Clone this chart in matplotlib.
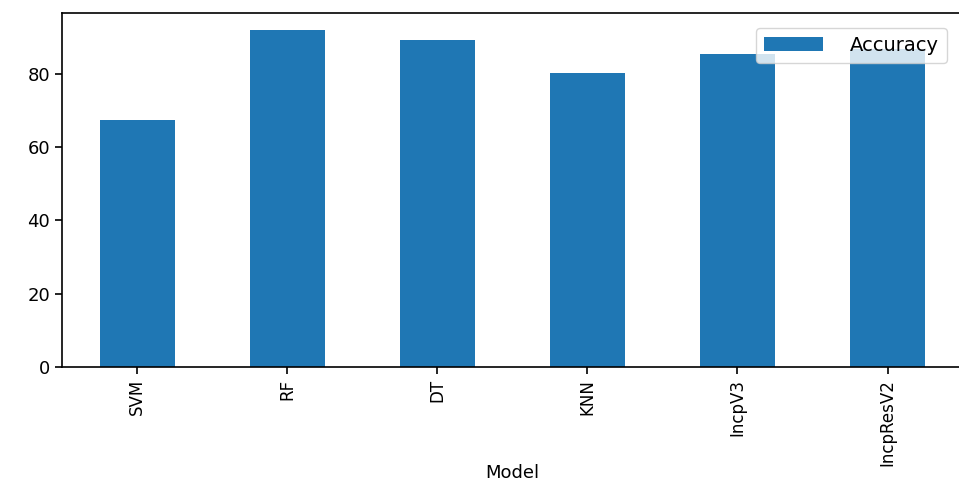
import pandas as pd
import matplotlib
matplotlib.use('Agg')
import matplotlib.pyplot as plt

# Model accuracy values
models = ['SVM', 'RF', 'DT', 'KNN', 'IncpV3', 'IncpResV2']
accuracy = [67.3, 92.0, 89.3, 80.2, 85.5, 86.8]

df = pd.DataFrame({'Model': models, 'Accuracy': accuracy})

fig = plt.figure(figsize=(9.59, 4.84), dpi=100)
ax = fig.add_axes([0.0647, 0.2417, 0.939, 0.7313])

df.plot(kind='bar', x='Model', y='Accuracy', ax=ax, color='#1f77b4')

ax.tick_params(axis='y', labelsize=13, width=1.2, length=5)
ax.tick_params(axis='x', labelsize=12, width=1.2, length=5)
ax.set_xlabel('Model', fontsize=13)
ax.xaxis.set_label_coords(0.5, -0.275)
ax.legend(loc='upper right', fontsize=14, handlelength=3, handletextpad=1.4,
          bbox_to_anchor=(0.993, 0.985))
for s in ax.spines.values():
    s.set_linewidth(1.2)

plt.savefig('out.png', dpi=100)
